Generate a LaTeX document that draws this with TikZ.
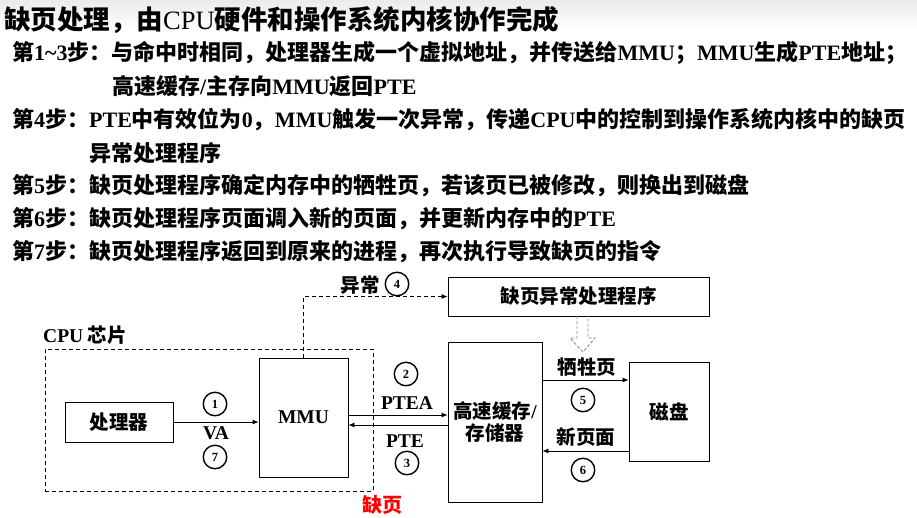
\documentclass[tikz,border=0pt]{standalone}
\usepackage{fontspec}
\setmainfont{Noto Sans CJK SC}
\newfontfamily\tnr{Liberation Serif}
\usetikzlibrary{arrows.meta}
\newcommand\E[1]{{\tnr #1}}
\begin{document}
\begin{tikzpicture}[x=1pt,y=-1pt,
 every node/.style={inner sep=0pt, font=\bfseries},
 stepline/.style={font=\fontsize{22}{22}\selectfont\bfseries, anchor=west},
 box/.style={draw, line width=0.8pt},
 lbl/.style={font=\fontsize{19.5}{22}\selectfont\bfseries},
 num/.style={draw, circle, line width=1.4pt, minimum size=23.5pt, font=\tnr\fontsize{12.5}{12.5}\selectfont\bfseries},
 arr/.style={-{Latex[length=6pt,width=5pt]}, line width=0.8pt},
]
\useasboundingbox (0,0) rectangle (917,517);
\shade[top color=black!8, bottom color=white] (0,0) rectangle (917,30);

\node[anchor=west, font=\fontsize{26.5}{26.5}\selectfont\bfseries] (title) at (4,20) {缺页处理，由\E{\mdseries CPU}硬件和操作系统内核协作完成};
\node[stepline] (s1) at (12,53) {第\E{1\textasciitilde3}步：与命中时相同，处理器生成一个虚拟地址，并传送给\E{MMU}；\E{MMU}生成\E{PTE}地址；};
\node[stepline] (s1b) at (112,86) {高速缓存\E{/}主存向\E{MMU}返回\E{PTE}};
\node[stepline] (s4) at (12,120) {第\E{4}步：\E{PTE}中有效位为\E{0}，\E{MMU}触发一次异常，传递\E{CPU}中的控制到操作系统内核中的缺页};
\node[stepline] (s4b) at (89,153) {异常处理程序};
\node[stepline] (s5) at (12,186) {第\E{5}步：缺页处理程序确定内存中的牺牲页，若该页已被修改，则换出到磁盘};
\node[stepline] (s6) at (12,219) {第\E{6}步：缺页处理程序页面调入新的页面，并更新内存中的\E{PTE}};
\node[stepline] (s7) at (12,252) {第\E{7}步：缺页处理程序返回到原来的进程，再次执行导致缺页的指令};

% CPU chip
\node[draw, dashed, line width=0.8pt, dash pattern=on 4pt off 3pt, minimum width=328pt, minimum height=142pt] (cpu) at (209,420) {};
\node[lbl, anchor=west] (cpulbl) at (43,335) {\E{CPU} 芯片};

\node[box, lbl, minimum width=108pt, minimum height=40pt] (proc) at (119,422) {处理器};
\node[box, lbl, minimum width=89pt, minimum height=119pt] (mmu) at (303.5,417.5) {\E{MMU}};
\node[box, lbl, minimum width=261pt, minimum height=39pt] (handler) at (578.5,296.5) {缺页异常处理程序};
\node[box, lbl, minimum width=94pt, minimum height=160pt, align=center] (cache) at (495,422) {高速缓存\E{/}\\存储器};
\node[box, lbl, minimum width=80pt, minimum height=99pt] (disk) at (669,411.5) {磁盘};

\coordinate (yptea) at (0,415);
\coordinate (ypte) at (0,425);
\coordinate (yvict) at (0,380);
\coordinate (ynew) at (0,451);

\draw[arr] (proc.east) -- (proc.east -| mmu.west);
\draw[arr] (mmu.east |- yptea) -- (cache.west |- yptea);
\draw[arr] (cache.west |- ypte) -- (mmu.east |- ypte);
\draw[arr, dashed, dash pattern=on 4pt off 3pt] (mmu.north) |- (handler.west);
\draw[arr] (cache.east |- yvict) -- (disk.west |- yvict);
\draw[arr] (disk.west |- ynew) -- (cache.east |- ynew);

% hollow dashed arrow
\draw[dashed, black!45, line width=0.9pt, dash pattern=on 3pt off 2pt] (577,316) -- (577,338) -- (570,338) -- (583,352) -- (595,338) -- (588,338) -- (588,316);

\node[num] (n1) at (215,404) {1};
\node[num] (n7) at (215,457) {7};
\node[num] (n2) at (406,374) {2};
\node[num] (n3) at (407,463) {3};
\node[num] (n4) at (397,284) {4};
\node[num] (n5) at (583,400) {5};
\node[num] (n6) at (583,470) {6};

\node[lbl] (va) at (216,433) {\E{VA}};
\node[lbl] (ptea) at (407,403) {\E{PTEA}};
\node[lbl] (pte) at (405,441) {\E{PTE}};
\node[lbl] (exc) at (360,285) {异常};
\node[lbl] (vict) at (587,367) {牺牲页};
\node[lbl] (newp) at (586,437) {新页面};
\node[lbl, text=red, font=\fontsize{20}{22}\selectfont\bfseries] (fault) at (382,505) {缺页};
\end{tikzpicture}
\end{document}
